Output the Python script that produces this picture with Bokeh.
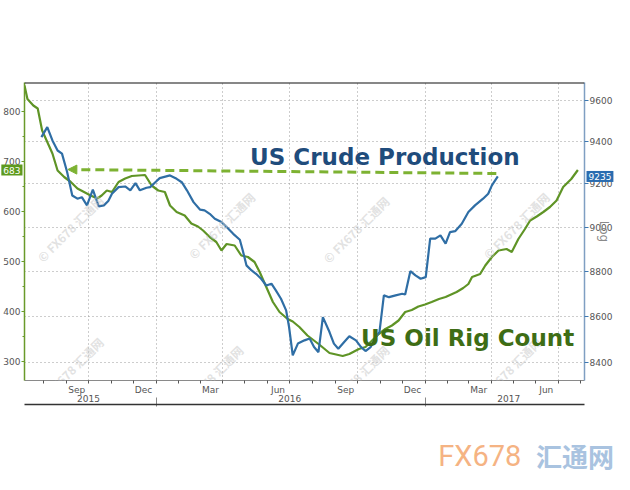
import pandas as pd
from math import pi
from bokeh.plotting import figure
from bokeh.models import (Range1d, LinearAxis, LogScale, FixedTicker, DatetimeTickFormatter,
                          ColumnDataSource, Grid, Label, Arrow, NormalHead, Span, NumeralTickFormatter)
from bokeh.embed import file_html
from bokeh.resources import INLINE

# ---------------- data ----------------
rig_dates = ["2015-07-06", "2015-07-10", "2015-07-18", "2015-07-24", "2015-07-30", "2015-08-06",
             "2015-08-13", "2015-08-20", "2015-08-29", "2015-09-07", "2015-09-16", "2015-09-25",
             "2015-10-04", "2015-10-13", "2015-10-19", "2015-10-26", "2015-11-02", "2015-11-11",
             "2015-11-20", "2015-11-29", "2015-12-08", "2015-12-17", "2015-12-26", "2016-01-04",
             "2016-01-13", "2016-01-20", "2016-01-29", "2016-02-09", "2016-02-18", "2016-02-27",
             "2016-03-05", "2016-03-14", "2016-03-23", "2016-03-30", "2016-04-06", "2016-04-17",
             "2016-04-26", "2016-05-05", "2016-05-14", "2016-05-21", "2016-05-30", "2016-06-08",
             "2016-06-17", "2016-06-28", "2016-07-05", "2016-07-14", "2016-07-25", "2016-08-10",
             "2016-08-24", "2016-09-11", "2016-09-20", "2016-10-03", "2016-10-12", "2016-10-21",
             "2016-10-30", "2016-11-08", "2016-11-17", "2016-11-26", "2016-12-05", "2016-12-14",
             "2016-12-23", "2017-01-01", "2017-01-10", "2017-01-20", "2017-01-29", "2017-02-07",
             "2017-02-13", "2017-02-22", "2017-03-01", "2017-03-06", "2017-03-17", "2017-03-24",
             "2017-04-02", "2017-04-11", "2017-04-22", "2017-04-29", "2017-05-08", "2017-05-17",
             "2017-05-24", "2017-06-02", "2017-06-11", "2017-06-20", "2017-06-29", "2017-07-08",
             "2017-07-19", "2017-07-28"]
rig_counts = [852, 825, 812, 806, 762, 739, 716, 682, 669, 659,
              646, 639, 632, 626, 632, 642, 639, 659, 666, 671,
              672, 673, 652, 642, 639, 612, 599, 592, 576, 570,
              562, 549, 539, 522, 535, 532, 512, 509, 499, 479,
              449, 419, 399, 385, 380, 369, 352, 334, 317, 311,
              315, 325, 329, 342, 355, 365, 372, 382, 399, 403,
              410, 414, 419, 425, 429, 435, 439, 447, 455, 469,
              475, 492, 509, 522, 525, 519, 545, 565, 582, 590,
              599, 609, 622, 649, 665, 683]

prod_dates = ["2015-07-29", "2015-08-06", "2015-08-13", "2015-08-20", "2015-08-26", "2015-09-02",
              "2015-09-09", "2015-09-16", "2015-09-22", "2015-09-29", "2015-10-07", "2015-10-15",
              "2015-10-22", "2015-10-28", "2015-11-02", "2015-11-11", "2015-11-20", "2015-11-27",
              "2015-12-04", "2015-12-10", "2015-12-19", "2015-12-24", "2015-12-31", "2016-01-06",
              "2016-01-20", "2016-01-29", "2016-02-05", "2016-02-12", "2016-02-21", "2016-03-01",
              "2016-03-07", "2016-03-14", "2016-03-21", "2016-03-30", "2016-04-06", "2016-04-15",
              "2016-04-24", "2016-04-28", "2016-05-03", "2016-05-10", "2016-05-16", "2016-05-23",
              "2016-05-30", "2016-06-06", "2016-06-12", "2016-06-19", "2016-06-26", "2016-06-30",
              "2016-07-05", "2016-07-12", "2016-07-21", "2016-07-28", "2016-08-03", "2016-08-09",
              "2016-08-15", "2016-08-24", "2016-08-30", "2016-09-05", "2016-09-13", "2016-09-20",
              "2016-09-29", "2016-10-06", "2016-10-12", "2016-10-19", "2016-10-26", "2016-10-31",
              "2016-11-06", "2016-11-13", "2016-11-22", "2016-12-01", "2016-12-05", "2016-12-12",
              "2016-12-19", "2016-12-26", "2017-01-02", "2017-01-08", "2017-01-15", "2017-01-22",
              "2017-01-29", "2017-02-04", "2017-02-11", "2017-02-20", "2017-03-01", "2017-03-10",
              "2017-03-21", "2017-03-28", "2017-04-02", "2017-04-10"]
prod_values = [9422, 9470, 9406, 9358, 9343, 9256, 9146, 9131, 9138, 9100,
               9173, 9095, 9100, 9120, 9154, 9185, 9188, 9170, 9204, 9170,
               9182, 9185, 9208, 9227, 9240, 9224, 9208, 9170, 9115, 9080,
               9077, 9061, 9038, 9023, 9000, 8969, 8942, 8893, 8826, 8803,
               8788, 8766, 8736, 8744, 8714, 8677, 8626, 8553, 8430, 8481,
               8495, 8503, 8466, 8444, 8596, 8531, 8481, 8459, 8488, 8513,
               8495, 8466, 8449, 8466, 8510, 8531, 8692, 8684, 8692, 8699,
               8696, 8800, 8781, 8766, 8773, 8947, 8947, 8962, 8924, 8977,
               8981, 9015, 9069, 9100, 9131, 9154, 9193, 9235]

left_ticks = [300, 400, 500, 600, 700, 800]
left_minor = [350, 450, 550, 650, 750]
right_ticks = [8400, 8600, 8800, 9000, 9200, 9400, 9600]
month_label_dates = ["2015-09-15", "2015-12-15", "2016-03-15", "2016-06-15",
                     "2016-09-15", "2016-12-15", "2017-03-15", "2017-06-15"]
quarter_starts = ["2015-10-01", "2016-01-01", "2016-04-01", "2016-07-01",
                  "2016-10-01", "2017-01-01", "2017-04-01", "2017-07-01"]
year_label_dates = ["2015-10-01", "2016-07-01", "2017-04-25"]
year_starts = ["2016-01-01", "2017-01-01"]
x_start, x_end = "2015-07-06", "2017-08-06"
left_lo, left_hi = 262, 858
right_lo, right_hi = 8323, 9688

# watermark anchor points (date, left-axis level)
wm_dates = ["2015-09-06", "2016-03-30", "2016-09-29", "2017-05-05",
            "2015-09-06", "2016-03-14", "2016-09-29", "2017-04-24"]
wm_levels = [566, 572, 564, 572, 282, 266, 266, 282]


def ms(s):
    return pd.Timestamp(s).value // 10**6


GREEN = "#5f9426"
BLUE = "#2f6ea5"
GREY = "#555555"
FONT = "DejaVu Sans"

p = figure(width=614, height=474, output_backend="svg", toolbar_location=None,
           x_axis_location=None, y_axis_location=None,
           x_range=Range1d(ms(x_start), ms(x_end)), y_range=Range1d(left_lo, left_hi),
           min_border_left=15, min_border_right=20, min_border_top=82, min_border_bottom=94)
p.extra_y_ranges = {"right": Range1d(right_lo, right_hi)}
p.extra_y_scales = {"right": LogScale()}
p.outline_line_color = None
p.xgrid.visible = False
p.ygrid.visible = False
p.background_fill_color = "white"
p.border_fill_color = "white"

# grids
vgrid = Grid(dimension=0, ticker=FixedTicker(ticks=[ms(d) for d in quarter_starts]),
             grid_line_color="#9a9a9a", grid_line_dash="1 3", grid_line_width=1)
hgrid = Grid(dimension=1, y_range_name="right", ticker=FixedTicker(ticks=right_ticks),
             grid_line_color="#9a9a9a", grid_line_dash="1 3", grid_line_width=1)
p.add_layout(vgrid)
p.add_layout(hgrid)

# faint site watermarks
for d, lv in zip(wm_dates, wm_levels):
    p.add_layout(Label(x=ms(d), y=lv, text="© FX678 汇通网", angle=pi / 4, text_align="center",
                       text_baseline="middle", text_font="Noto Sans CJK SC", text_font_size="12px",
                       text_font_style="bold", text_color="#c9c9c9", text_alpha=0.55))

# left axis (rig count)
yl = LinearAxis(ticker=FixedTicker(ticks=left_ticks, minor_ticks=left_minor))
yl.axis_line_color = "#6a9a2a"
yl.axis_line_width = 1.5
yl.major_tick_line_color = "#6a9a2a"
yl.major_tick_out = 3
yl.major_tick_in = 0
yl.minor_tick_line_color = "#6a9a2a"
yl.minor_tick_out = 2
yl.minor_tick_in = 0
yl.major_label_standoff = 1
yl.major_label_text_font = FONT
yl.major_label_text_font_size = "9px"
yl.major_label_text_color = GREY
p.add_layout(yl, "left")

# right axis (crude production, log scale)
yr = LinearAxis(y_range_name="right", ticker=FixedTicker(ticks=right_ticks),
                formatter=NumeralTickFormatter(format="0"), axis_label="Log")
yr.axis_line_color = "#7f9fc2"
yr.axis_line_width = 1.5
yr.major_tick_line_color = "#3f78b0"
yr.major_tick_out = 4
yr.major_tick_in = 0
yr.minor_tick_line_color = None
yr.major_label_standoff = 1
yr.major_label_text_font = FONT
yr.major_label_text_font_size = "9px"
yr.major_label_text_color = GREY
yr.axis_label_text_font = FONT
yr.axis_label_text_font_size = "12px"
yr.axis_label_text_font_style = "normal"
yr.axis_label_text_color = "#8a8a8a"
yr.axis_label_standoff = -18
p.add_layout(yr, "right")

# bottom: month labels + month boundary ticks
fmt_month = DatetimeTickFormatter(days="%b", months="%b", years="%b", hours="%b", minutes="%b")
xa = LinearAxis(ticker=FixedTicker(ticks=[ms(d) for d in month_label_dates],
                                   minor_ticks=[ms(d) for d in pd.date_range("2015-08-01", "2017-08-01", freq="MS")]),
                formatter=fmt_month)
xa.axis_line_color = "#8a8a8a"
xa.major_tick_out = 0
xa.major_tick_in = 0
xa.minor_tick_out = 3
xa.minor_tick_in = 0
xa.minor_tick_line_color = "#555555"
xa.major_label_standoff = 1
xa.major_label_text_font = FONT
xa.major_label_text_font_size = "9px"
xa.major_label_text_color = GREY
p.add_layout(xa, "below")

# bottom: year labels + year separators
fmt_year = DatetimeTickFormatter(days="%Y", months="%Y", years="%Y", hours="%Y", minutes="%Y")
xy = LinearAxis(ticker=FixedTicker(ticks=[ms(d) for d in year_label_dates],
                                   minor_ticks=[ms(d) for d in year_starts]),
                formatter=fmt_year)
xy.axis_line_color = None
xy.major_tick_out = 0
xy.major_tick_in = 0
xy.minor_tick_out = 9
xy.minor_tick_in = 0
xy.minor_tick_line_color = "#888888"
xy.major_label_standoff = -12
xy.major_label_text_font = FONT
xy.major_label_text_font_size = "9px"
xy.major_label_text_color = GREY
p.add_layout(xy, "below")

# bottom rule
xr = LinearAxis(ticker=FixedTicker(ticks=[]))
xr.axis_line_color = "#333333"
xr.axis_line_width = 1.5
xr.major_tick_line_color = None
xr.minor_tick_line_color = None
xr.major_label_standoff = 0
p.add_layout(xr, "below")

# top rule
p.add_layout(Span(location=left_hi, dimension="width", line_color="#111111", line_width=2))

# series
rig_src = ColumnDataSource(dict(x=pd.to_datetime(rig_dates), y=rig_counts))
prod_src = ColumnDataSource(dict(x=pd.to_datetime(prod_dates), y=prod_values))
p.line("x", "y", source=rig_src, line_color=GREEN, line_width=2.2)
p.line("x", "y", source=prod_src, y_range_name="right", line_color=BLUE, line_width=2.2)

# dashed arrow pointing back to the 683 level
p.add_layout(Arrow(end=NormalHead(size=9, fill_color="#7db232", line_color="#7db232"),
                   x_start=ms("2017-04-08"), y_start=676, x_end=ms("2015-09-03"), y_end=684,
                   line_color="#7db232", line_width=3, line_dash="9 5"))

# annotation texts
p.add_layout(Label(x=ms("2016-05-08"), y=710, text="US Crude Production", text_font=FONT,
                   text_baseline="alphabetic", text_font_style="bold", text_font_size="23px",
                   text_color="#1f4c7c"))
p.add_layout(Label(x=ms("2016-10-06"), y=348, text="US Oil Rig Count", text_font=FONT,
                   text_baseline="alphabetic", text_font_style="bold", text_font_size="23px",
                   text_color="#3e6d15"))

# last value tags (in side panels so they are not clipped to the frame)
p.add_layout(Label(x=ms(x_start), y=rig_counts[-1], x_offset=-2, text=str(rig_counts[-1]),
                   text_align="right", text_baseline="middle", text_font=FONT, text_font_size="9px",
                   text_color="white", background_fill_color="#5e9a1e", padding=2), "above")
p.add_layout(Label(x=ms(x_end), y=prod_values[-1], y_range_name="right", x_offset=2,
                   text=str(prod_values[-1]), text_align="left", text_baseline="middle",
                   text_font=FONT, text_font_size="9px", text_color="white",
                   background_fill_color="#2a6cb0", padding=2), "above")

# site logo
p.add_layout(Label(x=ms("2017-06-01"), y=112, text="汇通网", text_baseline="middle",
                   text_font="Noto Sans CJK SC", text_font_size="26px", text_font_style="bold",
                   text_color="#a9c3e0"), "above")
p.add_layout(Label(x=ms("2017-01-19"), y=112, text="FX678", text_baseline="middle",
                   text_font="Roboto", text_font_size="29px",
                   text_color="#f5b383"), "below")

open("out.html", "w").write(file_html(p, INLINE))
